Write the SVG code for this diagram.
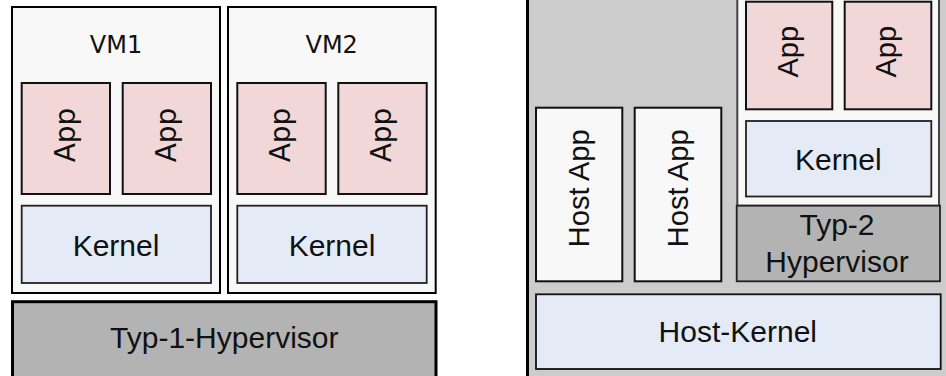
<svg xmlns="http://www.w3.org/2000/svg" width="946" height="376" viewBox="0 0 946 376">
<style>
.vm{fill:#f8f8f8;stroke:#000;stroke-width:2}
.app{fill:#f2d7d9;stroke:#111;stroke-width:2}
.kern{fill:#e4ebf7;stroke:#222;stroke-width:1.8}
.hyp{fill:#b3b3b3;stroke:#000;stroke-width:3}
.hyp2{fill:#b3b3b3;stroke:#222;stroke-width:1.8}
.host{fill:#cccccc;stroke:#000;stroke-width:3}
.happ{fill:#f8f8f8;stroke:#111;stroke-width:2}
.vmr{fill:#f8f8f8;stroke:#444;stroke-width:2}
text{fill:#111}
.t{font-family:"Liberation Sans",Arial,sans-serif;font-size:30px;text-anchor:middle}
.tr{font-family:"Liberation Sans",Arial,sans-serif;font-size:29px;text-anchor:middle}
.td{font-family:"DejaVu Sans",sans-serif;font-size:24px;text-anchor:middle}
.ta{font-family:"DejaVu Sans",sans-serif;font-size:28px;text-anchor:middle}
</style>
<rect width="946" height="376" fill="#ffffff"/>

<!-- Left side: Type 1 -->
<g id="vm1">
<rect class="vm" x="12" y="7" width="208" height="286"/>
<text class="td" x="116" y="53">VM1</text>
</g>
<g id="vm1-app1">
<rect class="app" x="21.7" y="83" width="88.3" height="111"/>
<text class="ta" transform="translate(74.5,135) rotate(-90)">App</text>
</g>
<g id="vm1-app2">
<rect class="app" x="122.7" y="83" width="88.3" height="111"/>
<text class="ta" transform="translate(175.5,135) rotate(-90)">App</text>
</g>
<g id="vm1-kernel">
<rect class="kern" x="21.7" y="205.7" width="189.3" height="77.3"/>
<text class="t" x="116" y="255.7">Kernel</text>
</g>

<g id="vm2">
<rect class="vm" x="228" y="7" width="207.7" height="286"/>
<text class="td" x="331.7" y="53">VM2</text>
</g>
<g id="vm2-app1">
<rect class="app" x="237.3" y="83" width="88.4" height="111"/>
<text class="ta" transform="translate(290,135) rotate(-90)">App</text>
</g>
<g id="vm2-app2">
<rect class="app" x="338.3" y="83" width="88.4" height="111"/>
<text class="ta" transform="translate(391,135) rotate(-90)">App</text>
</g>
<g id="vm2-kernel">
<rect class="kern" x="237.3" y="205.7" width="189.4" height="77.3"/>
<text class="t" x="332" y="255.7">Kernel</text>
</g>

<g id="typ1-hypervisor">
<rect class="hyp" x="12.5" y="301.7" width="423.5" height="90"/>
<text class="t" x="224.3" y="348.3">Typ-1-Hypervisor</text>
</g>

<!-- Right side: Type 2 -->
<g id="host">
<rect class="host" x="527.5" y="-10" width="440" height="400"/>
</g>
<g id="host-app1">
<rect class="happ" x="536" y="107.7" width="86.3" height="173.6"/>
<text class="tr" transform="translate(588.5,188.3) rotate(-90)">Host App</text>
</g>
<g id="host-app2">
<rect class="happ" x="634.7" y="107.7" width="86.6" height="173.6"/>
<text class="tr" transform="translate(687.5,188.3) rotate(-90)">Host App</text>
</g>
<g id="guest-vm">
<rect class="vmr" x="737.3" y="-10" width="201.7" height="215.7"/>
</g>
<g id="guest-app1">
<rect class="app" x="746" y="1.7" width="86.3" height="107.6"/>
<text class="tr" transform="translate(797.5,51.7) rotate(-90)">App</text>
</g>
<g id="guest-app2">
<rect class="app" x="844.7" y="1.7" width="86.6" height="107.6"/>
<text class="tr" transform="translate(896.2,51.7) rotate(-90)">App</text>
</g>
<g id="guest-kernel">
<rect class="kern" x="746" y="121" width="185.3" height="75.5"/>
<text class="t" x="838.3" y="170">Kernel</text>
</g>
<g id="typ2-hypervisor">
<rect class="hyp2" x="736.7" y="205.7" width="203.3" height="75.6"/>
<text class="t" x="837" y="235">Typ-2</text>
<text class="t" x="837" y="272.3">Hypervisor</text>
</g>
<g id="host-kernel">
<rect class="kern" x="536" y="294.3" width="404.7" height="74.7" style="stroke:#111"/>
<text class="t" x="737.8" y="342.3">Host-Kernel</text>
</g>
</svg>
